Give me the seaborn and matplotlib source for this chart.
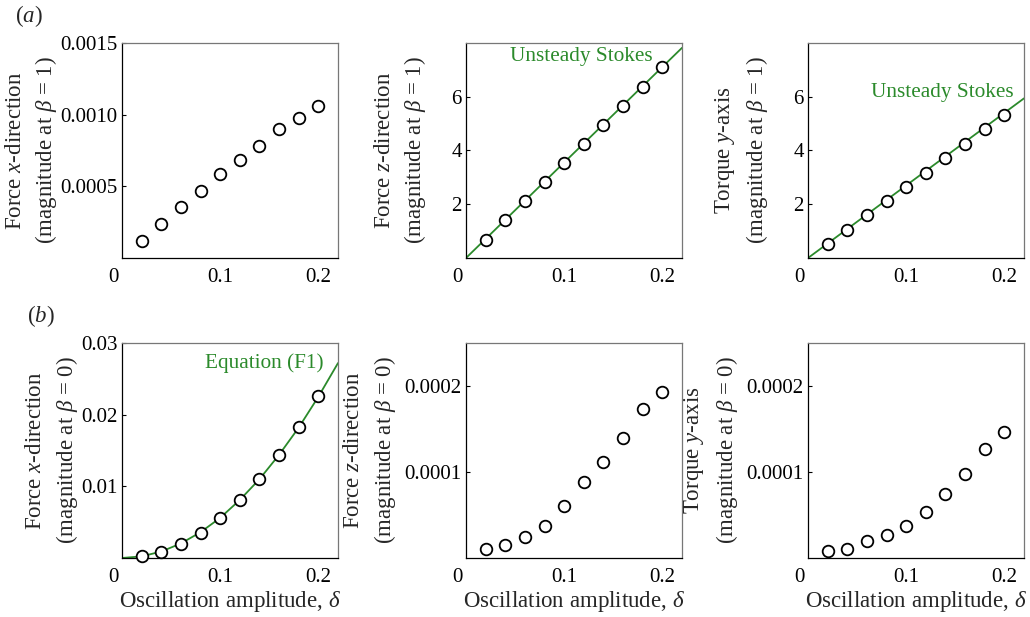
import numpy as np
import seaborn as sns
import matplotlib.pyplot as plt
import matplotlib.transforms as mtransforms

# oscillation amplitudes
delta = [0.02, 0.04, 0.06, 0.08, 0.10, 0.12, 0.14, 0.16, 0.18, 0.20]

# (a) magnitudes at beta = 1
force_x_b1 = [0.000119, 0.000235, 0.000353, 0.000467, 0.000584,
              0.000684, 0.000784, 0.000900, 0.000977, 0.001058]
force_z_b1 = [0.68, 1.40, 2.12, 2.82, 3.54, 4.25, 4.95, 5.66, 6.38, 7.10]
torque_y_b1 = [0.51, 1.05, 1.585, 2.12, 2.66, 3.18, 3.73, 4.25, 4.79, 5.33]

# (b) magnitudes at beta = 0
force_x_b0 = [0.00023, 0.00088, 0.00195, 0.00353, 0.00558,
              0.00805, 0.01098, 0.01442, 0.01823, 0.02265]
force_z_b0 = [0.0000105, 0.0000147, 0.0000244, 0.0000372, 0.0000605,
              0.0000884, 0.0001112, 0.0001391, 0.0001733, 0.0001926]
torque_y_b0 = [0.0000078, 0.0000109, 0.0000198, 0.0000271, 0.0000368,
               0.0000539, 0.0000748, 0.0000973, 0.0001267, 0.0001461]

# theory curves
stokes_x = [0.0, 0.22]
stokes_force_z = [0.0, 7.82]
stokes_torque_y = [0.0, 5.94]
f1_x = [0.0, 0.02, 0.04, 0.06, 0.08, 0.10, 0.12, 0.14, 0.16, 0.18, 0.20, 0.22]
f1_force_x = [0.0, 0.00023, 0.0009, 0.00203, 0.0036, 0.0056,
              0.0081, 0.0110, 0.0144, 0.0182, 0.0225, 0.0272]

ylabels = [
    "Force $x$-direction\n(magnitude at $\\beta$ = 1)",
    "Force $z$-direction\n(magnitude at $\\beta$ = 1)",
    "Torque $y$-axis\n(magnitude at $\\beta$ = 1)",
    "Force $x$-direction\n(magnitude at $\\beta$ = 0)",
    "Force $z$-direction\n(magnitude at $\\beta$ = 0)",
    "Torque $y$-axis\n(magnitude at $\\beta$ = 0)",
]

sns.set_theme(style="ticks")
plt.rcParams['font.family'] = ['Liberation Serif', 'DejaVu Serif']
plt.rcParams['mathtext.fontset'] = 'custom'
plt.rcParams['mathtext.rm'] = 'Liberation Serif'
plt.rcParams['mathtext.it'] = 'Liberation Serif:italic'

green = '#2b8a2b'
fs_label = 16.5
fs_tick = 15.0
fs_note = 15.3

fig = plt.figure(figsize=(10.30, 6.17), dpi=100)

lefts = [122, 466, 808]
bottoms = [359, 59]
W, H = 1030.0, 617.0
axes = []
for r in range(2):
    for c in range(3):
        ax = fig.add_axes([lefts[c] / W, bottoms[r] / H, 216 / W, 215 / H])
        axes.append(ax)

series = [force_x_b1, force_z_b1, torque_y_b1, force_x_b0, force_z_b0, torque_y_b0]
ylims = [(0, 0.0015), (0, 8), (0, 8), (0, 0.03), (0, 0.00025), (0, 0.00025)]
yticks = [[0.0005, 0.0010, 0.0015], [2, 4, 6], [2, 4, 6],
          [0.01, 0.02, 0.03], [0.0001, 0.0002], [0.0001, 0.0002]]
yticklabels = [["0.0005", "0.0010", "0.0015"], ["2", "4", "6"], ["2", "4", "6"],
               ["0.01", "0.02", "0.03"], ["0.0001", "0.0002"], ["0.0001", "0.0002"]]
label_x = [-0.29, -0.175, -0.175, -0.195, -0.315, -0.315]

# theory lines
sns.lineplot(x=stokes_x, y=stokes_force_z, ax=axes[1], color=green, lw=1.3)
sns.lineplot(x=stokes_x, y=stokes_torque_y, ax=axes[2], color=green, lw=1.3)
sns.lineplot(x=f1_x, y=f1_force_x, ax=axes[3], color=green, lw=1.3)

for i, ax in enumerate(axes):
    sns.scatterplot(x=delta, y=series[i], ax=ax, marker='o', s=70,
                    facecolor='white', edgecolor='black', linewidth=1.3,
                    zorder=3, clip_on=False)
    ax.set_xlim(0, 0.22)
    ax.set_ylim(*ylims[i])
    ax.set_xticks([0, 0.1, 0.2])
    ax.set_xticklabels(["0", "0.1", "0.2"], fontsize=fs_tick)
    ax.set_yticks(yticks[i])
    ax.set_yticklabels(yticklabels[i], fontsize=fs_tick)
    ax.tick_params(axis='y', direction='in', length=3, width=0.8, pad=3, colors='black')
    ax.tick_params(axis='x', direction='in', length=0, pad=7, colors='black')
    for sp in ['left', 'bottom']:
        ax.spines[sp].set_color('black')
        ax.spines[sp].set_linewidth(0.9)
    for sp in ['top', 'right']:
        ax.spines[sp].set_color('#777777')
        ax.spines[sp].set_linewidth(0.9)
    ax.set_ylabel(ylabels[i], fontsize=fs_label, linespacing=1.4)
    ax.yaxis.set_label_coords(label_x[i], 0.5)
    # shift the "0" label slightly to the left
    offset = mtransforms.ScaledTranslation(-9 / 100, 0, fig.dpi_scale_trans)
    lbl = ax.get_xticklabels()[0]
    lbl.set_transform(lbl.get_transform() + offset)
    if i >= 3:
        ax.set_xlabel("Oscillation amplitude, $\\delta$", fontsize=fs_label)
        ax.xaxis.set_label_coords(0.5, -0.145)

axes[1].text(0.19, 7.5, "Unsteady Stokes", color=green, fontsize=fs_note,
             ha='right', va='center')
axes[2].text(0.209, 6.14, "Unsteady Stokes", color=green, fontsize=fs_note,
             ha='right', va='center')
axes[3].text(0.205, 0.0272, "Equation (F1)", color=green, fontsize=fs_note,
             ha='right', va='center')

fig.text(29 / W, 1 - 16 / H, "($a$)", fontsize=fs_label, ha='center', va='center')
fig.text(41 / W, 1 - 316 / H, "($b$)", fontsize=fs_label, ha='center', va='center')

fig.savefig("out.png", dpi=100)
